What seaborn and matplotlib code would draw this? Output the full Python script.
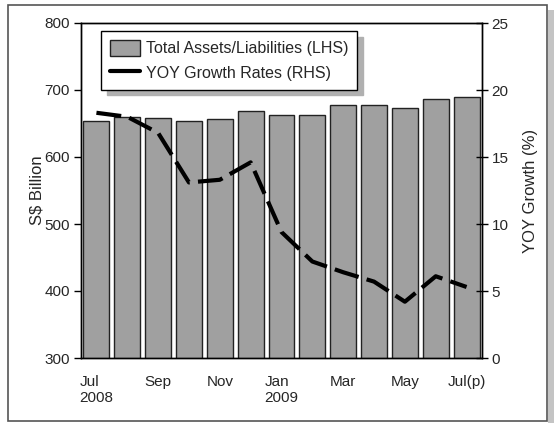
import numpy as np
import pandas as pd
import matplotlib.pyplot as plt
import seaborn as sns
from matplotlib.patches import Rectangle, Patch
from matplotlib.lines import Line2D
import matplotlib.transforms as mtransforms

months = ['Jul', 'Aug', 'Sep', 'Oct', 'Nov', 'Dec', 'Jan',
          'Feb', 'Mar', 'Apr', 'May', 'Jun', 'Jul(p)']
tick_labels = ['Jul\n2008', '', 'Sep', '', 'Nov', '', 'Jan\n2009',
               '', 'Mar', '', 'May', '', 'Jul(p)']
assets = [654, 659, 658, 653, 657, 668, 663, 662, 678, 677, 673, 687, 689]
yoy = [18.3, 18.0, 16.8, 13.1, 13.3, 14.6, 9.4, 7.2, 6.4, 5.7, 4.2, 6.1, 5.3]

df = pd.DataFrame({'month': months, 'pos': np.arange(len(months)),
                   'assets': assets, 'yoy': yoy})

sns.set_theme(style="white")
plt.rcParams['font.family'] = ['Liberation Sans', 'DejaVu Sans']

fig = plt.figure(figsize=(5.54, 4.23), dpi=100)
W, H = 554, 423

# outer frame with shadow
fig.patches.append(Rectangle((548 / W, 0), 6 / W, 1 - 10 / H, transform=fig.transFigure,
                             facecolor='#c4c4c4', edgecolor='none', zorder=0))
fig.patches.append(Rectangle((8 / W, 2 / H), 539 / W, 1 - 7 / H, transform=fig.transFigure,
                             facecolor='white', edgecolor='#555555', linewidth=1.2, zorder=1))

ax = fig.add_axes([81 / W, 1 - 358 / H, 401 / W, 335 / H])
ax.set_zorder(2)
sns.barplot(data=df, x='pos', y='assets', ax=ax, color='#a0a0a0', saturation=1,
            width=0.84, edgecolor='#222222', linewidth=1.0)
ax.set_ylim(300, 800)
ax.set_xlim(-0.5, len(months) - 0.5)
ax.set_yticks([300, 400, 500, 600, 700, 800])
ax.set_ylabel('S$ Billion', fontsize=12, labelpad=0)
ax.set_xlabel('')
ax.set_xticks(df['pos'])
ax.set_xticklabels(tick_labels, fontsize=11, multialignment='left')
offset = mtransforms.ScaledTranslation(7 / 100, 0, fig.dpi_scale_trans)
for lab in ax.get_xticklabels():
    if '\n' in lab.get_text():
        lab.set_transform(lab.get_transform() + offset)
ax.tick_params(axis='y', labelsize=11, direction='out', length=5, width=1, color='black', pad=3)
ax.tick_params(axis='x', direction='inout', length=8, width=1, color='black', pad=8)
for s in ax.spines.values():
    s.set_color('black')
    s.set_linewidth(1.0)

ax2 = ax.twinx()
sns.lineplot(data=df, x='pos', y='yoy', ax=ax2, color='black', linewidth=3,
             linestyle=(0, (6, 2)))
ax2.set_ylim(0, 25)
ax2.set_yticks([0, 5, 10, 15, 20, 25])
ax2.set_ylabel('YOY Growth (%)', fontsize=12, labelpad=10)
ax2.tick_params(axis='y', labelsize=11, direction='inout', length=8, width=1, color='black', pad=3)
for s in ax2.spines.values():
    s.set_color('black')
    s.set_linewidth(1.0)
for ln in ax2.get_lines():
    ln.set_dash_capstyle('butt')

handles = [Patch(facecolor='#a0a0a0', edgecolor='#222222', linewidth=1.0),
           Line2D([0], [0], color='black', linewidth=3)]
leg = ax2.legend(handles, ['Total Assets/Liabilities (LHS)', 'YOY Growth Rates (RHS)'],
                 loc='upper left', bbox_to_anchor=(0.05, 0.976), borderaxespad=0,
                 fontsize=11.5, frameon=True, fancybox=False, edgecolor='black',
                 facecolor='white', framealpha=1,
                 shadow={'color': '#b0b0b0', 'alpha': 1, 'ox': 4.5, 'oy': -4},
                 borderpad=0.55, handlelength=1.9, handleheight=1.2,
                 handletextpad=0.35, labelspacing=0.5)
leg.get_frame().set_linewidth(1.0)

fig.savefig('out.png', dpi=100)
